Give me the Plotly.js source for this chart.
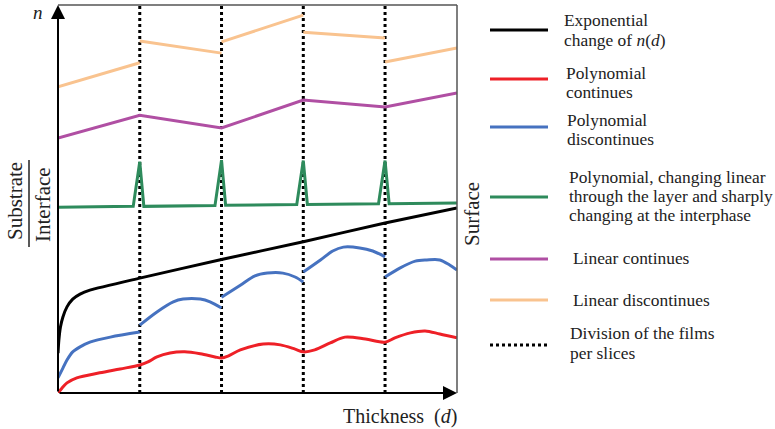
<!DOCTYPE html>
<html>
<head>
<meta charset="utf-8">
<script src="https://cdn.plot.ly/plotly-3.0.1.min.js"></script>
<style>
  html, body { margin: 0; padding: 0; background: #ffffff; }
  #chart { width: 775px; height: 429px; }
</style>
</head>
<body>
<div id="chart"></div>
<script>
// ---------- DATA (thickness in slice units, n in relative units 0-100) ----------
const sliceBounds = [1, 2, 3, 4];
const thicknessMax = 4.88;

// Exponential change of n(d)
const expX = [0, 0.01, 0.03, 0.06, 0.11, 0.18, 0.27, 0.39, 1.0, 2.0, 3.0, 4.0, 4.88];
const expY = [10.3, 13.5, 17.0, 19.6, 22.2, 24.2, 25.5, 26.5, 29.6, 34.4, 39.0, 43.8, 47.7];

// Polynomial continues
const polyContX = [0, 0.05, 0.11, 0.23, 0.51, 0.76, 1.0, 1.10, 1.21, 1.37, 1.55, 1.74, 1.92, 2.0, 2.08, 2.23, 2.51, 2.72, 2.90, 3.0, 3.14, 3.33, 3.51, 3.76, 4.0, 4.12, 4.31, 4.49, 4.67, 4.88];
const polyContY = [0, 1.3, 2.6, 3.9, 5.2, 6.2, 7.2, 8.0, 9.3, 10.3, 10.6, 10.1, 9.3, 9.0, 9.5, 11.1, 12.6, 12.4, 11.3, 10.6, 11.1, 12.9, 14.4, 13.9, 13.1, 14.2, 15.5, 16.0, 15.2, 14.2];

// Polynomial discontinues (one list per slice)
const polyDiscX = [
  [0, 0.06, 0.11, 0.18, 0.27, 0.39, 0.64, 1.0],
  [1.0, 1.21, 1.41, 1.53, 1.74, 1.86, 2.0],
  [2.0, 2.23, 2.41, 2.56, 2.75, 2.90, 3.0],
  [3.0, 3.21, 3.36, 3.49, 3.69, 3.85, 4.0],
  [4.0, 4.18, 4.37, 4.51, 4.67, 4.79, 4.88]
];
const polyDiscY = [
  [3.9, 6.4, 8.5, 10.6, 11.9, 13.1, 14.4, 15.7],
  [17.5, 20.9, 23.5, 24.2, 24.2, 23.5, 21.9],
  [24.7, 27.8, 30.2, 30.9, 30.9, 29.9, 28.6],
  [31.2, 34.3, 36.6, 37.6, 37.4, 36.6, 35.1],
  [29.9, 32.2, 34.0, 34.3, 34.3, 33.0, 31.7]
];

// Polynomial, changing linear through the layer and sharply changing at the interphase
const polyLinX = [0, 0.92, 1.0, 1.05, 1.92, 2.0, 2.05, 2.92, 3.0, 3.05, 3.92, 4.0, 4.05, 4.88];
const polyLinY = [47.9, 48.1, 59.6, 48.1, 48.3, 60.0, 48.4, 48.6, 59.9, 48.6, 48.8, 59.9, 48.8, 49.0];

// Linear continues
const linContX = [0, 1.0, 2.0, 3.0, 4.0, 4.88];
const linContY = [65.7, 71.6, 68.3, 75.5, 73.7, 77.3];

// Linear discontinues (one pair per slice)
const linDiscX = [[0, 1.0], [1.0, 2.0], [2.0, 3.0], [3.0, 4.0], [4.0, 4.88]];
const linDiscY = [[78.9, 85.1], [90.7, 87.6], [90.5, 97.4], [93.0, 91.5], [85.3, 88.9]];

// Legend labels (one entry per line of text)
const legendLabels = [
  ["Exponential", "change of <i>n</i>(<i>d</i>)"],
  ["Polynomial", "continues"],
  ["Polynomial", "discontinues"],
  ["Polynomial, changing linear", "through the layer and sharply", "changing at the interphase"],
  ["Linear continues"],
  ["Linear discontinues"],
  ["Division of the films", "per slices"]
];

// ---------- STYLES ----------
const colors = {
  exp: "#000000",
  polyCont: "#ee2027",
  polyDisc: "#4672c0",
  polyLin: "#2e8b5c",
  linCont: "#b04fa3",
  linDisc: "#f9c38f",
  slices: "#000000"
};
const serif = "'Liberation Serif', 'DejaVu Serif', serif";

// join segments with null gaps
function joinSegments(segs) {
  const out = [];
  segs.forEach((s, i) => { if (i > 0) out.push(null); s.forEach(v => out.push(v)); });
  return out;
}

const sliceX = [], sliceY = [];
sliceBounds.forEach((b, i) => {
  if (i > 0) { sliceX.push(null); sliceY.push(null); }
  sliceX.push(b, b); sliceY.push(0, 100);
});

const traces = [
  { x: sliceX, y: sliceY, mode: "lines", line: { color: colors.slices, width: 3, dash: "3px,3px" } },
  { x: joinSegments(linDiscX), y: joinSegments(linDiscY), mode: "lines", connectgaps: false,
    line: { color: colors.linDisc, width: 3 } },
  { x: linContX, y: linContY, mode: "lines", line: { color: colors.linCont, width: 3 } },
  { x: polyLinX, y: polyLinY, mode: "lines", line: { color: colors.polyLin, width: 3 } },
  { x: expX, y: expY, mode: "lines", line: { color: colors.exp, width: 3, shape: "spline", smoothing: 0.6 } },
  { x: joinSegments(polyDiscX), y: joinSegments(polyDiscY), mode: "lines", connectgaps: false,
    line: { color: colors.polyDisc, width: 3, shape: "spline", smoothing: 0.9 } },
  { x: polyContX, y: polyContY, mode: "lines", line: { color: colors.polyCont, width: 3, shape: "spline", smoothing: 0.9 } }
];

// pixel -> paper helpers for the hand-drawn legend and labels
const L = 58, T = 5, W = 399, H = 388;
const PX = p => (p - L) / W;
const PY = p => (T + H - p) / H;

const shapes = [
  // gray frame top and right
  { type: "line", xref: "paper", yref: "paper", x0: 0, y0: 1, x1: 1, y1: 1, line: { color: "#555", width: 1.5 } },
  { type: "line", xref: "paper", yref: "paper", x0: 1, y0: 0, x1: 1, y1: 1, line: { color: "#555", width: 1.5 } },
  // fraction bar Substrate / Interface
  { type: "line", xref: "paper", yref: "paper", x0: PX(29), y0: PY(160), x1: PX(29), y1: PY(247), line: { color: "#222", width: 1.5 } }
];

function label(px, py, text, size, angle) {
  return { xref: "paper", yref: "paper", x: PX(px), y: PY(py), xanchor: "center", yanchor: "middle",
    text: text, textangle: angle || 0, showarrow: false, font: { family: serif, size: size, color: "#222" } };
}

const annotations = [
  // axis arrows
  { xref: "x", yref: "y", axref: "x", ayref: "y", x: 0, y: 100, ax: 0, ay: 0, text: "", showarrow: true,
    arrowhead: 2, arrowsize: 1.4, arrowwidth: 2, arrowcolor: "#000" },
  { xref: "x", yref: "y", axref: "x", ayref: "y", x: thicknessMax, y: 0, ax: 0, ay: 0, text: "", showarrow: true,
    arrowhead: 2, arrowsize: 1.4, arrowwidth: 2, arrowcolor: "#000" },
  // axis labels
  label(38, 12, "<i>n</i>", 19),
  label(15, 201, "Substrate", 21, -90),
  label(43, 205, "Interface", 21, -90),
  label(472, 214, "Surface", 21, -90),
  label(400, 416, "Thickness  (<i>d</i>)", 20)
];

// legend: sample lines and text
const legendLineY = [30, 79, 127, 197, 259, 300, 345];
const legendTextY = [[20, 40], [73, 92], [120, 139], [177, 196, 215], [258], [300], [333, 353]];
const legendTextX = [562, 564, 565, 567, 571, 571, 568];
const legendColors = [colors.exp, colors.polyCont, colors.polyDisc, colors.polyLin, colors.linCont, colors.linDisc, colors.slices];
legendLineY.forEach((py, i) => {
  const dotted = i === legendLineY.length - 1;
  shapes.push({ type: "line", xref: "paper", yref: "paper", x0: PX(490), x1: PX(548), y0: PY(py), y1: PY(py),
    line: { color: legendColors[i], width: 3, dash: dotted ? "3px,3px" : "solid" } });
  legendLabels[i].forEach((txt, j) => {
    annotations.push({ xref: "paper", yref: "paper", x: PX(legendTextX[i]), y: PY(legendTextY[i][j]),
      xanchor: "left", yanchor: "middle", text: txt, showarrow: false,
      font: { family: serif, size: 17.4, color: "#222" } });
  });
});

const layout = {
  width: 775, height: 429,
  margin: { l: L, r: 775 - L - W, t: T, b: 429 - T - H, pad: 0 },
  paper_bgcolor: "#ffffff", plot_bgcolor: "#ffffff",
  font: { family: serif },
  showlegend: false, hovermode: false,
  xaxis: { range: [0, thicknessMax], showgrid: false, zeroline: false, showticklabels: false, ticks: "", showline: false, fixedrange: true },
  yaxis: { range: [0, 100], showgrid: false, zeroline: false, showticklabels: false, ticks: "", showline: false, fixedrange: true },
  shapes: shapes,
  annotations: annotations
};

Plotly.newPlot("chart", traces, layout, { staticPlot: true, displayModeBar: false });
</script>
</body>
</html>
